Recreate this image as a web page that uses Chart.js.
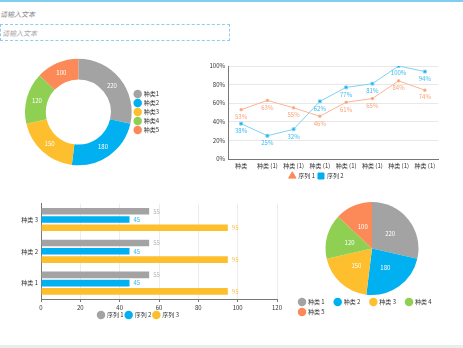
<!DOCTYPE html>
<html>
<head>
<meta charset="utf-8">
<script src="https://cdn.jsdelivr.net/npm/chart.js@4.4.1/dist/chart.umd.min.js"></script>
<style>
  html, body { margin: 0; padding: 0; background: #fff; }
  body { width: 463px; height: 348px; position: relative; overflow: hidden;
         font-family: "Noto Sans CJK SC", sans-serif; }
  .topline { position: absolute; left: 0; top: 0; width: 463px; height: 2px; background: #80cdef; }
  .bottomline { position: absolute; left: 0; top: 345px; width: 463px; height: 3px; background: #ececec; }
  .title { position: absolute; left: 0; top: 9px; font-size: 7px; font-style: italic; color: #8a8a8a; }
  .inputbox { position: absolute; left: 0; top: 24px; width: 230px; height: 17px;
              border: 1px dashed #8fcbf2; box-sizing: border-box; }
  .inputbox span { position: absolute; left: 1px; top: 3px; font-size: 7px; font-style: italic; color: #a8a8a8; }
  canvas { position: absolute; }
</style>
</head>
<body>
<div class="topline"></div>
<div class="title">请输入文本</div>
<div class="inputbox"><span>请输入文本</span></div>

<canvas id="donutChart" width="148" height="112" style="left:23px;top:56px"></canvas>
<canvas id="lineChart" width="255" height="134" style="left:195px;top:55px"></canvas>
<canvas id="barChart" width="290" height="131" style="left:0px;top:197px"></canvas>
<canvas id="pieChart" width="173" height="128" style="left:290px;top:197px"></canvas>
<div class="bottomline"></div>

<script>
// shared data
const kinds = ['种类1', '种类2', '种类3', '种类4', '种类5'];
const kindsSpaced = ['种类 1', '种类 2', '种类 3', '种类 4', '种类 5'];
const kindValues = [220, 180, 150, 120, 100];
const kindColors = ['#a3a3a3', '#00b0f0', '#fdbf2d', '#8fd053', '#fc8a58'];

const lineLabels = ['种类', '种类 (1)', '种类 (1)', '种类 (1)', '种类 (1)', '种类 (1)', '种类 (1)', '种类 (1)'];
const series1Pct = [53, 63, 55, 46, 61, 65, 84, 74];
const series2Pct = [38, 25, 32, 62, 77, 81, 100, 94];
const pctTicks = [0, 20, 40, 60, 80, 100];

const barLabels = ['种类 3', '种类 2', '种类 1'];
const barSeries1 = [55, 55, 55];
const barSeries2 = [45, 45, 45];
const barSeries3 = [95, 95, 95];

const FONT = '"Noto Sans CJK SC", "Noto Sans", sans-serif';
Chart.defaults.font.family = FONT;
Chart.defaults.font.size = 6;
Chart.defaults.color = '#333';
Chart.defaults.animation = false;

// draws value text next to each element
const valueLabels = {
  id: 'valueLabels',
  afterDatasetsDraw(chart, args, opts) {
    if (!opts || !opts.mode) return;
    const ctx = chart.ctx;
    ctx.save();
    ctx.font = (opts.size || 6) + 'px ' + FONT;
    chart.data.datasets.forEach((ds, i) => {
      const meta = chart.getDatasetMeta(i);
      meta.data.forEach((el, j) => {
        const v = ds.data[j];
        const text = v + (opts.suffix || '');
        if (opts.mode === 'below') {
          ctx.fillStyle = ds.labelColor;
          ctx.textAlign = 'center';
          ctx.textBaseline = 'middle';
          ctx.fillText(text, el.x, el.y + 7);
        } else if (opts.mode === 'end') {
          ctx.fillStyle = ds.labelColor;
          ctx.textAlign = 'left';
          ctx.textBaseline = 'middle';
          ctx.fillText(text, el.x + 4, el.y);
        } else {
          const p = el.tooltipPosition();
          ctx.fillStyle = '#fff';
          ctx.textAlign = 'center';
          ctx.textBaseline = 'middle';
          ctx.fillText(text, p.x, p.y);
        }
      });
    });
    ctx.restore();
  }
};

new Chart(document.getElementById('donutChart'), {
  type: 'doughnut',
  data: {
    labels: kinds,
    datasets: [{ data: kindValues, backgroundColor: kindColors, borderWidth: 0 }]
  },
  options: {
    responsive: false,
    cutout: '61%',
    layout: { padding: 2 },
    plugins: {
      legend: {
        position: 'right',
        labels: { usePointStyle: true, pointStyle: 'circle', boxWidth: 7, boxHeight: 7, padding: 3, font: { size: 6 } }
      },
      tooltip: { enabled: false },
      valueLabels: { mode: 'center', size: 6 }
    }
  },
  plugins: [valueLabels]
});

new Chart(document.getElementById('lineChart'), {
  type: 'line',
  data: {
    labels: lineLabels,
    datasets: [
      {
        label: '序列 1', data: series1Pct,
        borderColor: '#fbb594', backgroundColor: '#fc8a58', labelColor: '#f9a27a',
        borderWidth: 1, pointStyle: 'rect', pointRadius: 1.5, tension: 0
      },
      {
        label: '序列 2', data: series2Pct,
        borderColor: '#7fd2f4', backgroundColor: '#00aeef', labelColor: '#3bbaf0',
        borderWidth: 1, pointStyle: 'rect', pointRadius: 2, tension: 0
      }
    ]
  },
  options: {
    responsive: false,
    layout: { padding: { top: 11, right: 12, left: 0, bottom: 0 } },
    scales: {
      x: {
        offset: true,
        grid: { display: false, drawOnChartArea: false, drawTicks: true, offset: true, tickLength: 3, tickColor: '#777' },
        border: { color: '#777' },
        ticks: { font: { size: 6 }, padding: 0, maxRotation: 0, autoSkip: false },
        afterFit: s => { s.height = 11; }
      },
      y: {
        min: 0, max: 100,
        afterBuildTicks: s => { s.ticks = pctTicks.map(v => ({ value: v })); },
        grid: { color: '#e8e8e8', drawTicks: false },
        border: { color: '#777' },
        ticks: { font: { size: 6 }, padding: 3, callback: v => v + '%' },
        afterFit: s => { s.width = 33; }
      }
    },
    plugins: {
      legend: {
        position: 'bottom',
        labels: {
          usePointStyle: true, boxWidth: 7, boxHeight: 7, padding: 3, font: { size: 6 },
          generateLabels: chart => Chart.defaults.plugins.legend.labels.generateLabels(chart).map((l, i) => {
            l.pointStyle = i === 0 ? 'triangle' : 'rect';
            l.fillStyle = chart.data.datasets[i].backgroundColor;
            l.strokeStyle = chart.data.datasets[i].backgroundColor;
            return l;
          })
        }
      },
      tooltip: { enabled: false },
      valueLabels: { mode: 'below', suffix: '%', size: 6 }
    }
  },
  plugins: [valueLabels]
});

new Chart(document.getElementById('barChart'), {
  type: 'bar',
  data: {
    labels: barLabels,
    datasets: [
      { label: '序列 1', data: barSeries1, backgroundColor: '#a3a3a3', labelColor: '#b5b5b5' },
      { label: '序列 2', data: barSeries2, backgroundColor: '#00b0f0', labelColor: '#2fb6ef' },
      { label: '序列 3', data: barSeries3, backgroundColor: '#fdbf2d', labelColor: '#fbc54e' }
    ]
  },
  options: {
    responsive: false,
    indexAxis: 'y',
    categoryPercentage: 0.78,
    barPercentage: 0.8,
    layout: { padding: { top: 4, right: 13, left: 0, bottom: 0 } },
    scales: {
      x: {
        min: 0, max: 120,
        ticks: { stepSize: 20, font: { size: 6 }, padding: 2 },
        grid: { color: '#ececec', tickLength: 3, tickColor: '#777' },
        border: { color: '#777' },
        afterFit: s => { s.height = 11; }
      },
      y: {
        grid: { display: false, drawTicks: false, tickLength: 0 },
        border: { color: '#777' },
        ticks: { font: { size: 6 }, padding: 3 },
        afterFit: s => { s.width = 41; }
      }
    },
    plugins: {
      legend: {
        position: 'bottom',
        labels: { usePointStyle: true, pointStyle: 'circle', boxWidth: 7, boxHeight: 7, padding: 2, font: { size: 6 } }
      },
      tooltip: { enabled: false },
      valueLabels: { mode: 'end', size: 6 }
    }
  },
  plugins: [valueLabels]
});

new Chart(document.getElementById('pieChart'), {
  type: 'pie',
  data: {
    labels: kindsSpaced,
    datasets: [{ data: kindValues, backgroundColor: kindColors, borderWidth: 0 }]
  },
  options: {
    responsive: false,
    layout: { padding: { top: 5, left: 5, right: 14, bottom: 0 } },
    plugins: {
      legend: {
        position: 'bottom',
        align: 'start',
        labels: {
          usePointStyle: true, pointStyle: 'circle', boxWidth: 7, boxHeight: 7, padding: 4, font: { size: 6 },
          // extra en-spaces widen each item so the fifth entry wraps
          generateLabels: chart => Chart.overrides.doughnut.plugins.legend.labels.generateLabels(chart).map(l => {
            l.text = l.text + '\u2002\u2002';
            return l;
          })
        }
      },
      tooltip: { enabled: false },
      valueLabels: { mode: 'center', size: 6 }
    }
  },
  plugins: [valueLabels]
});
</script>
</body>
</html>
